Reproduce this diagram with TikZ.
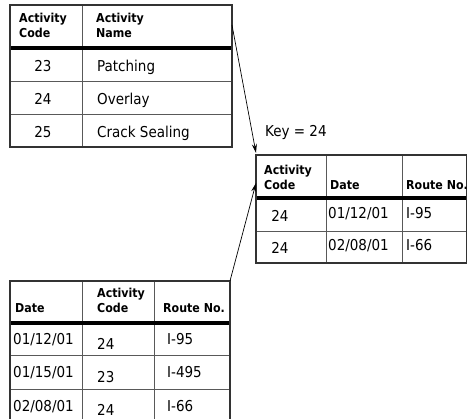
\documentclass[tikz,border=0pt]{standalone}
\usepackage{fontspec}
\setmainfont{DejaVu Sans Condensed}
\usetikzlibrary{arrows.meta}

\begin{document}
\begin{tikzpicture}[x=1pt,y=-1pt,
    frame/.style={draw=black!80,line width=1.3pt},
    grid/.style={draw=black!65,line width=0.9pt},
    rule/.style={line width=3.6pt},
    hd/.style={inner sep=0pt,anchor=base west,align=left,font=\fontsize{12.3}{15}\selectfont\bfseries},
    cell/.style={inner sep=0pt,anchor=base west,font=\fontsize{15}{16}\selectfont},
    num/.style={cell,anchor=base}]
\useasboundingbox (0,0) rectangle (467,419);
% activity table
\draw[grid] (82,5)--(82,147);
\draw[grid] (10,81)--(232,81);
\draw[grid] (10,114)--(232,114);
\draw[rule] (10,48)--(232,48);
\draw[frame] (10,5) rectangle (232,147);
\node[hd] (acode) at (19,38) {Activity\\Code};
\node[hd] (aname) at (96,38) {Activity\\Name};
\node[num] (a1) at (43,72) {23};
\node[cell] (n1) at (97,72) {Patching};
\node[num] (a2) at (43,105) {24};
\node[cell] (n2) at (97,105) {Overlay};
\node[num] (a3) at (43,138) {25};
\node[cell] (n3) at (97,138) {Crack Sealing};
% result table
\node[cell] (key) at (265,137) {Key = 24};
\draw[grid] (326,155)--(326,263);
\draw[grid] (402,155)--(402,263);
\draw[grid] (256,231)--(467,231);
\draw[rule] (256,198)--(467,198);
\draw[frame] (256,155) rectangle (467,263);
\node[hd] (rcode) at (264,190) {Activity\\Code};
\node[hd] (rdate) at (330,190) {Date};
\node[hd] (rroute) at (406,190) {Route No.};
\node[num] (r1) at (280,222) {24};
\node[cell] (d1) at (328,219) {01/12/01};
\node[cell] (o1) at (406,219) {I-95};
\node[num] (r2) at (280,254) {24};
\node[cell] (d2) at (328,251) {02/08/01};
\node[cell] (o2) at (406,251) {I-66};
% work table
\draw[grid] (82,281)--(82,425);
\draw[grid] (154,281)--(154,425);
\draw[grid] (10,355)--(230,355);
\draw[grid] (10,389)--(230,389);
\draw[rule] (10,323)--(230,323);
\draw[frame] (10,281) rectangle (230,423);
\node[hd] (wdate) at (15,313) {Date};
\node[hd] (wcode) at (97,313) {Activity\\Code};
\node[hd] (wroute) at (163,313) {Route No.};
\node[cell] (w1) at (13,345) {01/12/01};
\node[cell] (c1) at (97,350) {24};
\node[cell] (p1) at (167,345) {I-95};
\node[cell] (w2) at (13,378) {01/15/01};
\node[cell] (c2) at (97,383) {23};
\node[cell] (p2) at (167,378) {I-495};
\node[cell] (w3) at (13,412) {02/08/01};
\node[cell] (c3) at (97,416) {24};
\node[cell] (p3) at (167,412) {I-66};
% arrows
\coordinate (aout) at (232,25);
\coordinate (wout) at (230,281);
\coordinate (rin1) at (256,153);
\coordinate (rin2) at (256,183);
\draw[-{Stealth[length=9pt,width=5pt]},line width=0.7pt] (aout) -- (rin1);
\draw[-{Stealth[length=9pt,width=5pt]},line width=0.7pt] (wout) -- (rin2);
\end{tikzpicture}
\end{document}
